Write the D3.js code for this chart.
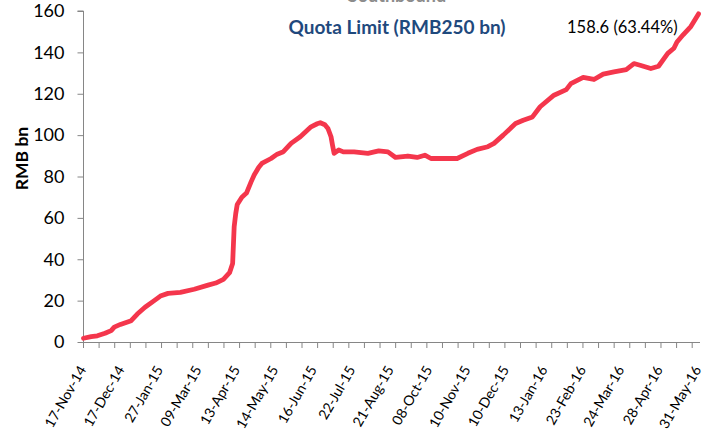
<!DOCTYPE html>
<html>
<head>
<meta charset="utf-8">
<script src="https://cdn.jsdelivr.net/npm/d3@7"></script>
<style>
  body { margin: 0; background: #fff; }
  text { font-family: Lato, "Open Sans", sans-serif; }
</style>
</head>
<body>
<div id="chart"></div>
<script>
// trading day index (from 17-Nov-14) and cumulative southbound quota used, RMB bn
const days = [0, 5, 9, 14, 18, 20, 24, 31, 35, 40, 46, 50, 55, 63, 72, 81, 86, 91, 95, 97,
  98, 99, 100, 103, 106, 109, 111, 114, 116, 122, 126, 130, 135, 141, 148, 152, 154, 157, 159, 161,
  162, 163, 166, 169, 176, 185, 192, 198, 203, 211, 217, 222, 226, 237, 243, 250, 256, 263, 267, 273,
  281, 286, 292, 297, 306, 314, 317, 325, 332, 338, 345, 353, 358, 362, 369, 374, 380, 384, 386, 390,
  395, 400]
const quota = [1.8, 2.6, 3.0, 4.2, 5.5, 7.2, 8.5, 10.3, 13.5, 16.8, 20, 22.2, 23.5, 24, 25.5, 27.5, 28.5, 30.3, 33.5, 38,
  55.7, 62, 66.5, 70, 72, 77.4, 80.7, 84.5, 86.3, 88.7, 90.8, 92, 96, 99.2, 104, 105.5, 106, 105, 103.2, 99.2,
  95, 91.2, 92.8, 91.9, 91.9, 91.2, 92.4, 91.9, 89.2, 89.9, 89.2, 90.3, 88.7, 88.7, 88.7, 91.2, 93.1, 94.4, 96, 100,
  105.6, 107.2, 108.8, 113.7, 119.3, 122, 124.9, 127.9, 126.9, 129.5, 130.6, 131.7, 134.6, 133.8, 132.2, 133.3, 139.5, 142, 145, 148.5,
  152.5, 158.6]

const dateLabels = ['17-Nov-14', '17-Dec-14', '27-Jan-15', '09-Mar-15', '13-Apr-15', '14-May-15',
  '16-Jun-15', '22-Jul-15', '21-Aug-15', '08-Oct-15', '10-Nov-15', '10-Dec-15', '13-Jan-16',
  '23-Feb-16', '24-Mar-16', '28-Apr-16', '31-May-16']
const labelEvery = 25
const tickEvery = 10
const slots = 395
const yTicks = [0, 20, 40, 60, 80, 100, 120, 140, 160]

const title = 'Quota Limit (RMB250 bn)'
const lastNote = '158.6 (63.44%)'

const W = 710, H = 434
const mLeft = 83.5, mRight = 700, mTop = 11, mBottom = 342

const svg = d3.select('#chart')
  .append('svg')
  .attr('width', W)
  .attr('height', H)

const x = d3.scaleLinear().domain([0, 400]).range([mLeft, 698.5])
const xTick = d3.scaleLinear().domain([0, slots]).range([mLeft, mRight])
const y = d3.scaleLinear().domain([0, 160]).range([mBottom, mTop])

// heading above the plot, mostly cut off by the top edge as in the source image
svg.append('text')
  .attr('x', 397)
  .attr('y', 2)
  .attr('text-anchor', 'middle')
  .style('font-size', '18px')
  .style('font-weight', 'bold')
  .style('fill', '#8c8c8c')
  .text('Southbound')

// y axis
const yAxis = svg.append('g')
  .attr('transform', `translate(${mLeft},0)`)
  .call(d3.axisLeft(y).tickValues(yTicks).tickSize(6).tickPadding(13))
yAxis.selectAll('path, line').attr('stroke', '#868686')
yAxis.select('.domain').attr('d', `M-6,${y(160)}H0V${y(0)}`)
yAxis.selectAll('text')
  .style('font-family', 'Lato, sans-serif')
  .style('font-size', '18px')
  .style('fill', '#000')

svg.append('text')
  .attr('transform', `translate(22,${(y(0) + y(160)) / 2 - 18}) rotate(-90)`)
  .attr('text-anchor', 'middle')
  .attr('dy', '0.35em')
  .style('font-size', '17.5px')
  .style('font-weight', 'bold')
  .text('RMB bn')

// x axis: category axis with ticks every 10 slots
const xg = svg.append('g')
xg.append('line')
  .attr('x1', mLeft).attr('x2', mRight)
  .attr('y1', mBottom + 0.5).attr('y2', mBottom + 0.5)
  .attr('stroke', '#868686')
xg.selectAll('.tk')
  .data(d3.range(0, slots, tickEvery))
  .enter()
  .append('line')
  .attr('class', 'tk')
  .attr('x1', d => xTick(d)).attr('x2', d => xTick(d))
  .attr('y1', mBottom).attr('y2', mBottom + 6)
  .attr('stroke', '#868686')

xg.selectAll('.lbl')
  .data(dateLabels)
  .enter()
  .append('text')
  .attr('class', 'lbl')
  .attr('transform', (d, i) => `translate(${x(i * labelEvery) - 1},367) rotate(-60)`)
  .attr('text-anchor', 'end')
  .attr('dy', '0.35em')
  .style('font-size', '14px')
  .text(d => d)

// the line
const pts = days.map((d, i) => [d, quota[i]])
svg.append('path')
  .datum(pts)
  .attr('fill', 'none')
  .attr('stroke', '#f4364c')
  .attr('stroke-width', 4.8)
  .attr('stroke-linejoin', 'round')
  .attr('stroke-linecap', 'round')
  .attr('d', d3.line().x(d => x(d[0])).y(d => y(d[1])))

svg.append('text')
  .attr('x', 397)
  .attr('y', 34)
  .attr('text-anchor', 'middle')
  .style('font-size', '19px')
  .style('font-weight', 'bold')
  .style('fill', '#1f497d')
  .text(title)

svg.append('text')
  .attr('x', 567)
  .attr('y', 33)
  .style('font-size', '16.5px')
  .text(lastNote)
</script>
</body>
</html>
